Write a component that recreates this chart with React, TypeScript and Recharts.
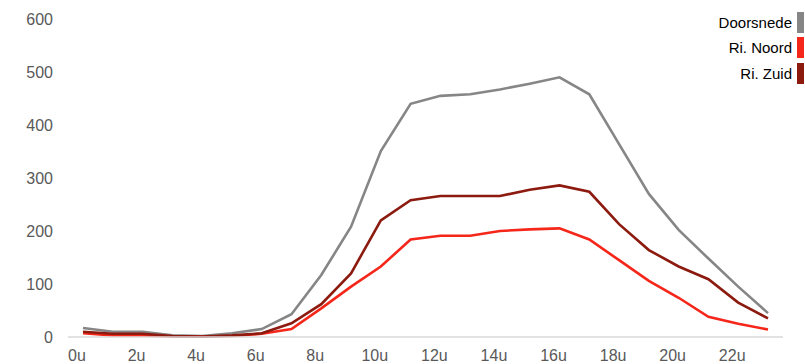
import { FC } from "react";
import { Line, LineChart, XAxis, YAxis } from "recharts";

const hours = [
    "0u", "1u", "2u", "3u", "4u", "5u", "6u", "7u", "8u", "9u", "10u", "11u",
    "12u", "13u", "14u", "15u", "16u", "17u", "18u", "19u", "20u", "21u", "22u", "23u",
];
const doorsnede = [17, 10, 10, 3, 2, 7, 15, 43, 117, 208, 351, 440, 455, 458, 467, 478, 490, 458, 364, 270, 202, 148, 95, 45];
const riNoord = [7, 3, 3, 1, 1, 2, 6, 15, 54, 95, 133, 184, 191, 191, 200, 203, 205, 184, 145, 106, 74, 38, 25, 14];
const riZuid = [10, 6, 6, 2, 1, 3, 7, 26, 62, 120, 220, 258, 266, 266, 266, 278, 286, 274, 213, 164, 133, 109, 65, 35];
const yTicks = [0, 100, 200, 300, 400, 500, 600];

const chartData = hours.map((hour, i) => ({
    hour,
    doorsnede: doorsnede[i],
    riNoord: riNoord[i],
    riZuid: riZuid[i],
}));

const series = [
    { key: "doorsnede", name: "Doorsnede", color: "#868686" },
    { key: "riNoord", name: "Ri. Noord", color: "#f5261a" },
    { key: "riZuid", name: "Ri. Zuid", color: "#8c1a0f" },
];

const font = "Arial, 'Liberation Sans', sans-serif";

// legend sits on top of the plot, like the original, so it does not shrink the chart
const LegendBox: FC = () => (
    <div style={{ position: "absolute", top: 10, right: 1, fontFamily: font, fontSize: 15 }}>
        {series.map((s) => (
            <div
                key={s.key}
                style={{ display: "flex", justifyContent: "flex-end", alignItems: "center", height: 25.3 }}
            >
                <span style={{ color: "#000", marginRight: 5 }}>{s.name}</span>
                <span style={{ display: "inline-block", width: 7, height: 21, background: s.color }} />
            </div>
        ))}
    </div>
);

const App: FC = () => {
    return (
        <div style={{ position: "absolute", left: 0, top: 0, width: 805, height: 364 }}>
            <LineChart
                width={805}
                height={364}
                data={chartData}
                margin={{ top: 19, right: 22, bottom: 0, left: 0 }}
                style={{ fontFamily: font }}
            >
                <XAxis
                    dataKey="hour"
                    interval={1}
                    padding={{ left: 15, right: 15 }}
                    height={27}
                    tickLine={false}
                    tickSize={0}
                    tickMargin={13}
                    axisLine={{ stroke: "#d9d9d9", strokeWidth: 1.5 }}
                    tick={{ fill: "#595959", fontSize: 16, dx: -6 }}
                />
                <YAxis
                    domain={[0, 600]}
                    ticks={yTicks}
                    width={68}
                    tickLine={false}
                    tickSize={0}
                    tickMargin={15}
                    axisLine={false}
                    tick={{ fill: "#595959", fontSize: 16 }}
                />
                {series.map((s) => (
                    <Line
                        key={s.key}
                        type="linear"
                        dataKey={s.key}
                        name={s.name}
                        stroke={s.color}
                        strokeWidth={2.6}
                        dot={false}
                        activeDot={false}
                        isAnimationActive={false}
                    />
                ))}
            </LineChart>
            <LegendBox />
        </div>
    );
};

export default App;
